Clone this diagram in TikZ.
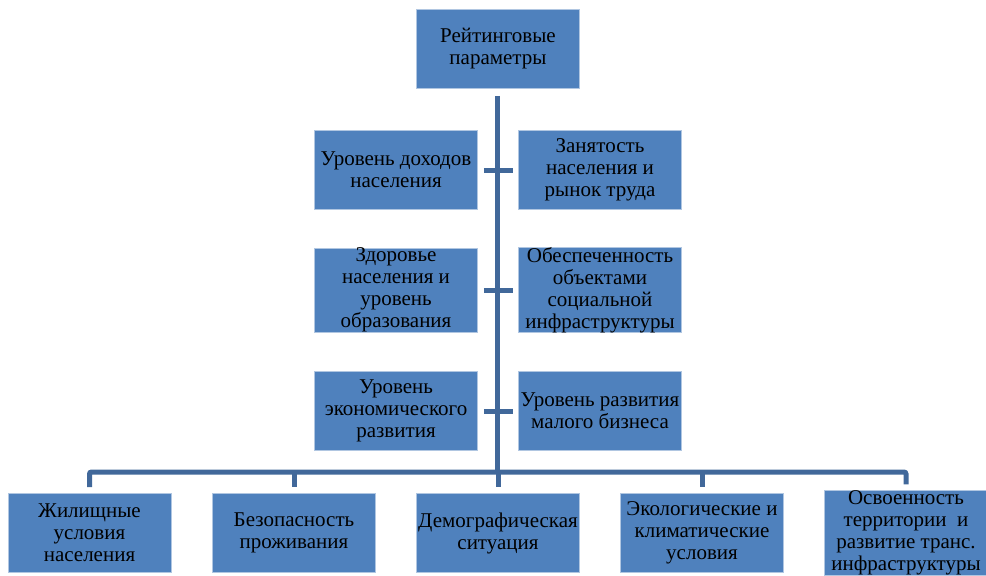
\documentclass[tikz,border=0pt]{standalone}
\usepackage{fontspec}
\setmainfont{Liberation Serif}
\usepackage{tikz}
\definecolor{boxblue}{HTML}{4F81BD}
\definecolor{linkblue}{HTML}{41689A}
\tikzset{
    param/.style={rectangle, fill=boxblue, draw=boxblue!45, line width=0.6pt,
        minimum width=163pt, minimum height=79pt, inner sep=0pt,
        align=center, font=\fontsize{21}{22}\selectfont},
    link/.style={draw=linkblue, line width=5pt}
}
\begin{document}
\begin{tikzpicture}[x=1pt, y=1pt]
        \useasboundingbox (0,0) rectangle (986,-576);
        % Top box
        \node[param] (top) at (498,-49) {Рейтинговые\\параметры};
        % Middle rows
        \node[param] (l1) at (396,-170) {Уровень доходов\\населения};
        \node[param] (r1) at (600,-170) {Занятость\\населения и\\рынок труда};
        \node[param] (l2) at (396,-290) {Здоровье\\населения и\\уровень\\образования};
        \node[param] (r2) at (600,-290) {Обеспеченность\\объектами\\социальной\\инфраструктуры};
        \node[param] (l3) at (396,-411) {Уровень\\экономического\\развития};
        \node[param] (r3) at (600,-411) {Уровень развития\\малого бизнеса};
        % Bottom row
        \node[param] (b1) at (89.5,-533) {Жилищные\\условия\\населения};
        \node[param] (b2) at (294,-533) {Безопасность\\проживания};
        \node[param] (b3) at (498,-533) {Демографическая\\ситуация};
        \node[param] (b4) at (702,-533) {Экологические и\\климатические\\условия};
        \node[param] (b5) at (906,-533) {Освоенность\\территории~ и\\развитие транс.\\инфраструктуры};
        % Spine
        \coordinate (bus) at (497,-472);
        \draw[link, shorten <=7pt] (top.south -| bus) -- (bus);
        % Ticks
        \foreach \i in {1,2,3} {
            \draw[link, shorten <=6pt, shorten >=5pt] (l\i) -- (r\i);
        }
        % Bus and drops
        \draw[link, rounded corners=2pt, shorten <=6pt, shorten >=6pt]
            (b1.north) |- (bus) -| (b5.north);
        \foreach \i in {2,3,4} {
            \draw[link, shorten >=6pt] (b\i.north |- bus) -- (b\i.north);
        }
\end{tikzpicture}
\end{document}
